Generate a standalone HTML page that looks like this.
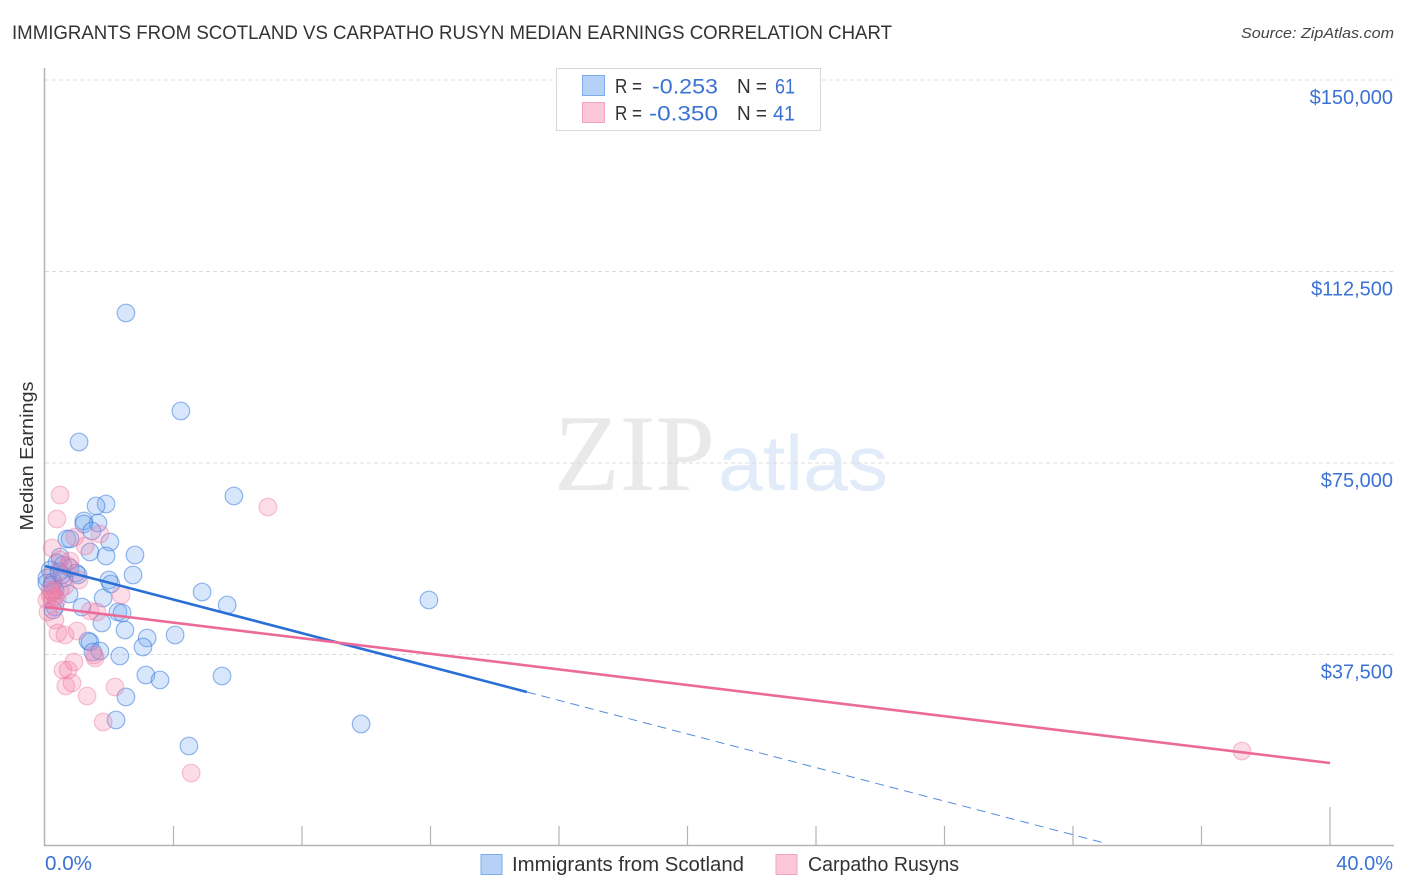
<!DOCTYPE html>
<html lang="en">
<head>
<meta charset="utf-8">
<title>Immigrants from Scotland vs Carpatho Rusyn Median Earnings Correlation Chart</title>
<style>
html,body{margin:0;padding:0;background:#fff;width:1406px;height:892px;overflow:hidden}
svg{display:block;font-family:"Liberation Sans",sans-serif}
</style>
</head>
<body>
<svg id="chart" xmlns="http://www.w3.org/2000/svg" width="1406" height="892" viewBox="0 0 1406 892">
  <text x="12" y="39" font-size="19" fill="#333" textLength="880" lengthAdjust="spacingAndGlyphs">IMMIGRANTS FROM SCOTLAND VS CARPATHO RUSYN MEDIAN EARNINGS CORRELATION CHART</text>
  <text x="1394" y="38" font-size="15" font-style="italic" fill="#444" text-anchor="end" textLength="153" lengthAdjust="spacingAndGlyphs">Source: ZipAtlas.com</text>
  <g>
    <text x="554" y="490" font-family="'Liberation Serif',serif" font-size="109" fill="#e9e9e9" textLength="161" lengthAdjust="spacingAndGlyphs">ZIP</text>
    <text x="718" y="490" font-size="78" fill="#e1ebf9" textLength="170" lengthAdjust="spacingAndGlyphs">atlas</text>
  </g>
  <g id="grid"></g>
  <g id="axes"></g>
  <g id="pts-blue"></g>
  <g id="pts-pink"></g>
  <g id="trends"></g>
  <g id="labels"></g>
  <text transform="translate(33,456) rotate(-90)" font-size="18" fill="#333" text-anchor="middle" textLength="149" lengthAdjust="spacingAndGlyphs">Median Earnings</text>

  <g>
    <rect x="556.5" y="68.5" width="264" height="62" fill="#fff" stroke="#d8d8d8" stroke-width="1"/>
    <rect x="582.5" y="75.5" width="22" height="20" fill="#b6d1f7" stroke="#7fabea"/>
    <rect x="582.5" y="102.5" width="22" height="20" fill="#fcc8d9" stroke="#f3a3bf"/>
    <g font-size="20" fill="#333">
      <text x="615" y="93" textLength="27" lengthAdjust="spacingAndGlyphs">R =</text>
      <text x="737" y="93" textLength="30" lengthAdjust="spacingAndGlyphs">N =</text>
      <text x="615" y="120" textLength="27" lengthAdjust="spacingAndGlyphs">R =</text>
      <text x="737" y="120" textLength="30" lengthAdjust="spacingAndGlyphs">N =</text>
    </g>
    <g font-size="21.5" fill="#3b72d4">
      <text x="652" y="93.5" textLength="66" lengthAdjust="spacingAndGlyphs">-0.253</text>
      <text x="775" y="93.5" textLength="20" lengthAdjust="spacingAndGlyphs">61</text>
      <text x="649" y="120.5" textLength="69" lengthAdjust="spacingAndGlyphs">-0.350</text>
      <text x="773" y="120.5" textLength="22" lengthAdjust="spacingAndGlyphs">41</text>
    </g>
  </g>

  <g>
    <rect x="481" y="854.5" width="21" height="20" fill="#b6d1f7" stroke="#7fabea"/>
    <text x="512" y="871" font-size="20" fill="#333" textLength="232" lengthAdjust="spacingAndGlyphs">Immigrants from Scotland</text>
    <rect x="776" y="854.5" width="21" height="20" fill="#fcc8d9" stroke="#f3a3bf"/>
    <text x="808" y="871" font-size="20" fill="#333" textLength="151" lengthAdjust="spacingAndGlyphs">Carpatho Rusyns</text>
  </g>
</svg>
<script>
const yTickValues = [150000, 112500, 75000, 37500];
const yTickLabels = ["$150,000", "$112,500", "$75,000", "$37,500"];
const xTickValues = [0, 4, 8, 12, 16, 20, 24, 28, 32, 36, 40];
const xEndLabels = ["0.0%", "40.0%"];

const scotlandX = [2.52,4.23,1.06,5.88,1.90,1.59,1.21,1.65,1.21,1.46,0.68,0.78,2.02,1.40,1.90,2.80,0.47,0.37,0.56,0.16,0.78,0.97,1.03,2.74,0.06,0.59,1.99,2.05,0.25,0.31,0.75,1.81,4.89,5.67,11.95,1.15,2.27,2.40,1.77,2.49,0.31,1.34,1.40,3.18,4.05,3.05,1.49,1.71,2.33,3.14,3.58,5.51,2.52,2.21,9.84,4.48,0.25,0.06,0.53,0.22,0.44];
const scotlandY = [104372,85182,79111,68537,66970,66579,63642,63250,63054,61683,60117,60117,59529,57571,56788,56984,56592,55417,55025,54046,54438,53459,53067,53067,52480,52480,52088,51305,51696,50130,49347,48563,49738,47193,48172,46801,45822,45626,43668,42297,46801,40143,39947,40731,41318,38968,37989,38185,37206,33485,32506,33289,29177,24673,23890,19582,46214,51501,53067,51109,53655];

const carpathoX = [0.47,0.37,6.94,0.22,1.71,0.93,1.25,0.78,0.47,0.72,1.06,0.22,2.37,0.47,0.62,0.16,0.06,0.22,0.31,0.16,0.09,1.40,1.62,0.31,0.40,0.62,1.00,1.56,1.53,0.90,0.56,0.72,0.65,0.84,1.31,2.18,1.81,4.55,37.26,0.22,0.37];
const carpathoY = [68733,64033,66383,58354,61096,60508,58746,55809,56005,54830,52088,53067,49151,50130,50913,49151,48172,48172,48759,50130,45822,46018,45822,44255,41710,41318,42101,36814,37402,36031,34464,34464,31331,31919,29373,31135,24282,14295,18603,49738,48172];

const scotlandTrendX = [0, 15, 33];
const scotlandTrendY = [54830, 30160, 550];
const carpathoTrendX = [0, 40];
const carpathoTrendY = [46800, 16250];

const NS = "http://www.w3.org/2000/svg";
const xPos = v => 45 + v * (1285 / 40);
const yPos = v => 846 - v * (766 / 150000);
const mk = (tag, parent) => { const e = document.createElementNS(NS, tag); parent.appendChild(e); return e; };
const setAll = (e, o) => { for (const k in o) e.setAttribute(k, o[k]); return e; };

const gridG = document.getElementById("grid");
const axesG = document.getElementById("axes");
const labelsG = document.getElementById("labels");

yTickValues.forEach((v, i) => {
  const l = mk("line", gridG);
  setAll(l, {x1: 45, x2: 1394, y1: yPos(v), y2: yPos(v), stroke: "#dcdcdc", "stroke-width": 1, "stroke-dasharray": "4 3"});
  
  
  const t = mk("text", labelsG);
  setAll(t, {x: 1393, y: yPos(v) + 24, "font-size": 20, fill: "#3b72d4", "text-anchor": "end"});
  t.textContent = yTickLabels[i];
  
  
});

const yAxis = mk("line", axesG);
setAll(yAxis, {x1: 44.5, x2: 44.5, y1: 68, y2: 846, stroke: "#b4b4b4", "stroke-width": 1.5});


const xAxis = mk("line", axesG);
setAll(xAxis, {x1: 44, x2: 1394, y1: 845.5, y2: 845.5, stroke: "#b4b4b4", "stroke-width": 1.5});



xTickValues.slice(1).forEach((v, i, arr) => {
  const l = mk("line", axesG);
  setAll(l, {x1: xPos(v), x2: xPos(v), y1: i === arr.length - 1 ? 807 : 826, y2: 846, stroke: "#b4b4b4", "stroke-width": 1.2});
  
  
});

const xLabelLeft = mk("text", labelsG);
setAll(xLabelLeft, {x: 45, y: 870, "font-size": 20, fill: "#3b72d4", textLength: 47, lengthAdjust: "spacingAndGlyphs"});
xLabelLeft.textContent = xEndLabels[0];


const xLabelRight = mk("text", labelsG);
setAll(xLabelRight, {x: 1393, y: 870, "font-size": 20, fill: "#3b72d4", "text-anchor": "end"});
xLabelRight.textContent = xEndLabels[1];



const blueG = document.getElementById("pts-blue");
scotlandX.forEach((x, i) => {
  const c = mk("circle", blueG);
  setAll(c, {cx: xPos(x), cy: yPos(scotlandY[i]), r: 8.8, fill: "rgba(110,165,240,0.28)", stroke: "rgba(45,115,220,0.5)", "stroke-width": 1.2});
  
  
});

const pinkG = document.getElementById("pts-pink");
carpathoX.forEach((x, i) => {
  const c = mk("circle", pinkG);
  setAll(c, {cx: xPos(x), cy: yPos(carpathoY[i]), r: 8.8, fill: "rgba(245,130,170,0.28)", stroke: "rgba(235,110,155,0.4)", "stroke-width": 1.2});
  
  
});

const trendG = document.getElementById("trends");
const blueSolid = mk("line", trendG);
setAll(blueSolid, {x1: xPos(scotlandTrendX[0]), y1: yPos(scotlandTrendY[0]), x2: xPos(scotlandTrendX[1]), y2: yPos(scotlandTrendY[1]), stroke: "#2a6fd6", "stroke-width": 2.6});


const blueDash = mk("line", trendG);
setAll(blueDash, {x1: xPos(scotlandTrendX[1]), y1: yPos(scotlandTrendY[1]), x2: xPos(scotlandTrendX[2]), y2: yPos(scotlandTrendY[2]), stroke: "#2a6fd6", "stroke-opacity": 0.8, "stroke-width": 1, "stroke-dasharray": "9 6"});


const pinkLine = mk("line", trendG);
setAll(pinkLine, {x1: xPos(carpathoTrendX[0]), y1: yPos(carpathoTrendY[0]), x2: xPos(carpathoTrendX[1]), y2: yPos(carpathoTrendY[1]), stroke: "#ec6a9a", "stroke-width": 2.6});


</script>
</body>
</html>
